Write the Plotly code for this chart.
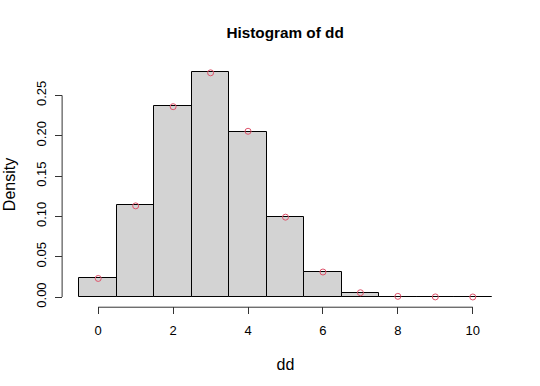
import plotly.graph_objects as go

# Data
bins = [0, 1, 2, 3, 4, 5, 6, 7, 8, 9, 10]
density = [0.023, 0.114, 0.237, 0.279, 0.205, 0.099, 0.031, 0.0055, 0.0003, 0.00005, 0.00002]
point_x = [0, 1, 2, 3, 4, 5, 6, 7, 8, 9, 10]
point_y = [0.023, 0.113, 0.236, 0.278, 0.2055, 0.099, 0.031, 0.0053, 0.0008, 0.0001, 0.00002]
x_ticks = [0, 2, 4, 6, 8, 10]
y_ticks = [0.00, 0.05, 0.10, 0.15, 0.20, 0.25]

FONT = "Liberation Sans, Arial, sans-serif"

fig = go.Figure()
fig.add_trace(go.Bar(
    x=bins, y=density, width=1,
    marker=dict(color="#D3D3D3", line=dict(color="black", width=1)),
    hoverinfo="x+y", showlegend=False,
))
fig.add_trace(go.Scatter(
    x=point_x, y=point_y, mode="markers",
    marker=dict(symbol="circle-open", size=6, color="#DF536B", line=dict(width=1)),
    showlegend=False,
))

xmin, xmax = bins[0] - 0.5, bins[-1] + 0.5
xpad = 0.04 * (xmax - xmin)
ymax = max(density)
ypad = 0.04 * ymax

# axis lines spanning the tick range (R style)
fig.add_shape(type="line", xref="x", yref="paper", x0=x_ticks[0], x1=x_ticks[-1], y0=-0.005, y1=-0.005,
              line=dict(color="#333333", width=1))
fig.add_shape(type="line", xref="paper", yref="y", x0=-0.002, x1=-0.002, y0=y_ticks[0], y1=y_ticks[-1],
              line=dict(color="#333333", width=1))

fig.update_layout(
    width=540, height=386,
    margin=dict(l=63, r=32, t=63, b=80),
    paper_bgcolor="white", plot_bgcolor="white",
    bargap=0,
    font=dict(family=FONT, size=13, color="black"),
    title=dict(text="<b>Histogram of dd</b>", x=0.528, xanchor="center", y=0.915, yanchor="middle",
               yref="container", font=dict(family=FONT, size=15.3, color="black")),
    xaxis=dict(range=[xmin - xpad, xmax + xpad], tickvals=x_ticks, ticks="outside", ticklen=7,
               tickcolor="#333333", showgrid=False, zeroline=False, showline=False, automargin=False,
               tickfont=dict(size=13),
               title=dict(text="dd", standoff=22), ticklabelstandoff=5),
    yaxis=dict(range=[-ypad, ymax + ypad], tickvals=y_ticks, tickformat=".2f", ticks="outside",
               ticklen=7, tickcolor="#333333", tickangle=-90, showgrid=False, zeroline=False,
               showline=False, automargin=False, tickfont=dict(size=13),
               title=dict(text="Density", standoff=14), ticklabelstandoff=4),
)

fig.write_html("out.html", config={"displayModeBar": False},
               post_script="document.body.style.margin='0';document.body.style.overflow='hidden';")
